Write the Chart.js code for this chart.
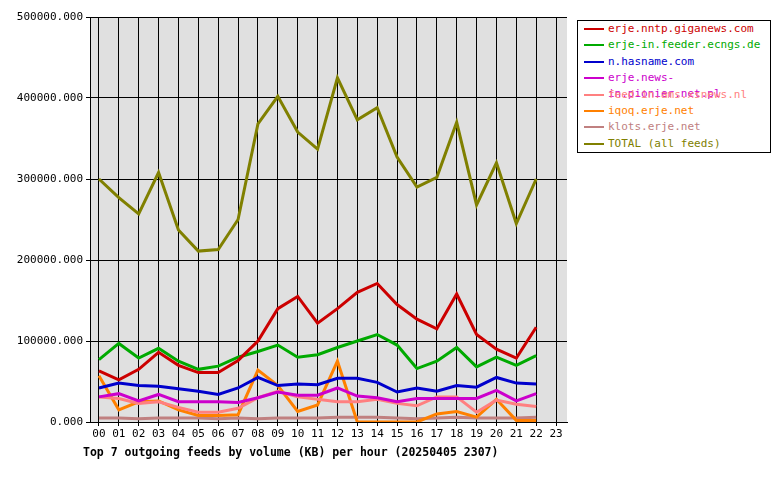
<!DOCTYPE html>
<html>
<head>
<meta charset="utf-8">
<script src="https://cdn.jsdelivr.net/npm/chart.js@4"></script>
<style>
  body { margin: 0; background: #fff; font-family: "DejaVu Sans Mono", monospace; }
  #wrap { position: relative; width: 780px; height: 480px; }
  #legend { position: absolute; left: 577px; top: 20px; width: 192px; height: 131px; border: 1px solid #000; background: #fff; font-size: 11px; }
  #legend div { height: 16.4px; line-height: 16px; padding-left: 30px; position: relative; }
  #legend span { position: absolute; left: 6px; top: 7px; width: 20px; height: 2px; }
  #title { position: absolute; left: 83px; top: 445px; font-size: 11.5px; font-weight: bold; }
</style>
</head>
<body>
<div id="wrap">
  <canvas id="c" width="780" height="480"></canvas>
  <div id="legend"></div>
  <div id="title">Top 7 outgoing feeds by volume (KB) per hour (20250405 2307)</div>
</div>
<script>
const hours = ["00","01","02","03","04","05","06","07","08","09","10","11","12","13","14","15","16","17","18","19","20","21","22","23"];
const feedNames = ["erje.nntp.giganews.com", "erje-in.feeder.ecngs.de", "n.hasname.com", "erje.news-in.pionier.net.pl", "feed-in.ams.xsnews.nl", "iqoq.erje.net", "klots.erje.net", "TOTAL (all feeds)"];
const feedColors = ["#cc0000", "#00aa00", "#0000cc", "#cc00cc", "#ff8080", "#ff8000", "#c08080", "#808000"];

// values in KB, hours 00..22
const giganews = [63000, 52000, 65000, 86000, 70000, 61000, 61000, 76000, 100000, 140000, 155000, 122000, 140000, 160000, 171000, 145000, 127000, 115000, 158000, 108000, 90000, 79000, 117000];
const ecngs = [77000, 97000, 79000, 91000, 75000, 65000, 69000, 80000, 87000, 95000, 80000, 83000, 92000, 100000, 108000, 95000, 66000, 75000, 92000, 68000, 80000, 70000, 82000];
const hasname = [42000, 48000, 45000, 44000, 41000, 38000, 34000, 42000, 55000, 45000, 47000, 46000, 54000, 54000, 49000, 37000, 42000, 38000, 45000, 43000, 55000, 48000, 47000];
const pionier = [31000, 35000, 26000, 34000, 25000, 25000, 25000, 24000, 30000, 37000, 33000, 33000, 42000, 32000, 30000, 25000, 29000, 29000, 29000, 29000, 39000, 26000, 35000];
const xsnews = [31000, 29000, 23000, 25000, 18000, 12000, 12000, 17000, 30000, 38000, 31000, 28000, 25000, 25000, 28000, 23000, 20000, 31000, 31000, 12000, 27000, 22000, 19000];
const iqoq = [57000, 15000, 25000, 26000, 15000, 8000, 8000, 9000, 64000, 45000, 13000, 21000, 75000, 0, 0, 0, 0, 10000, 13000, 6000, 28000, 2000, 2000];
const klots = [5000, 5000, 4000, 5000, 5000, 5000, 4000, 5000, 4000, 5000, 5000, 5000, 6000, 6000, 6000, 5000, 4000, 5000, 6000, 5000, 5000, 5000, 6000];
const total = [300000, 277000, 257000, 308000, 237000, 211000, 213000, 250000, 368000, 402000, 358000, 337000, 425000, 373000, 388000, 327000, 290000, 302000, 370000, 268000, 320000, 245000, 300000];

const series = [giganews, ecngs, hasname, pionier, xsnews, iqoq, klots, total];
// draw order: total at back, giganews on top
const datasets = series.map((vals, i) => ({
  label: feedNames[i],
  data: vals.map((v, h) => ({ x: h, y: v })),
  borderColor: feedColors[i],
  borderWidth: 3,
  pointRadius: 0,
  tension: 0,
  order: i === 7 ? 10 : i
}));

const legendEl = document.getElementById("legend");
feedNames.forEach((name, i) => {
  const d = document.createElement("div");
  d.style.color = feedColors[i];
  d.innerHTML = '<span style="background:' + feedColors[i] + '"></span>' + name;
  legendEl.appendChild(d);
});

const plotBg = {
  id: "plotBg",
  beforeDraw(chart) {
    const { ctx, chartArea: a } = chart;
    ctx.save();
    ctx.fillStyle = "#e0e0e0";
    ctx.fillRect(a.left, a.top, a.right - a.left, a.bottom - a.top);
    ctx.restore();
  }
};

new Chart(document.getElementById("c"), {
  type: "line",
  data: { datasets },
  plugins: [plotBg],
  options: {
    responsive: false,
    animation: false,
    layout: { padding: { top: 17, right: 213, left: 0, bottom: 0 } },
    plugins: { legend: { display: false }, tooltip: { enabled: false } },
    scales: {
      x: {
        type: "linear",
        min: -0.45,
        max: 23.55,
        afterFit(s) { s.height = 58; },
        afterBuildTicks(s) { s.ticks = hours.map((_, i) => ({ value: i })); },
        ticks: {
          callback: (v) => hours[v],
          color: "#000",
          font: { family: "DejaVu Sans Mono", size: 11 },
          maxRotation: 0,
          autoSkip: false,
          padding: 2
        },
        grid: { color: "#000", lineWidth: 1, tickLength: 4 },
        border: { color: "#000" }
      },
      y: {
        min: 0,
        max: 500000,
        afterFit(s) { s.width = 90; },
        ticks: {
          stepSize: 100000,
          callback: (v) => v.toFixed(3),
          color: "#000",
          font: { family: "DejaVu Sans Mono", size: 11 },
          padding: 3
        },
        grid: { color: "#000", lineWidth: 1, tickLength: 4 },
        border: { color: "#000" }
      }
    }
  }
});
</script>
</body>
</html>
